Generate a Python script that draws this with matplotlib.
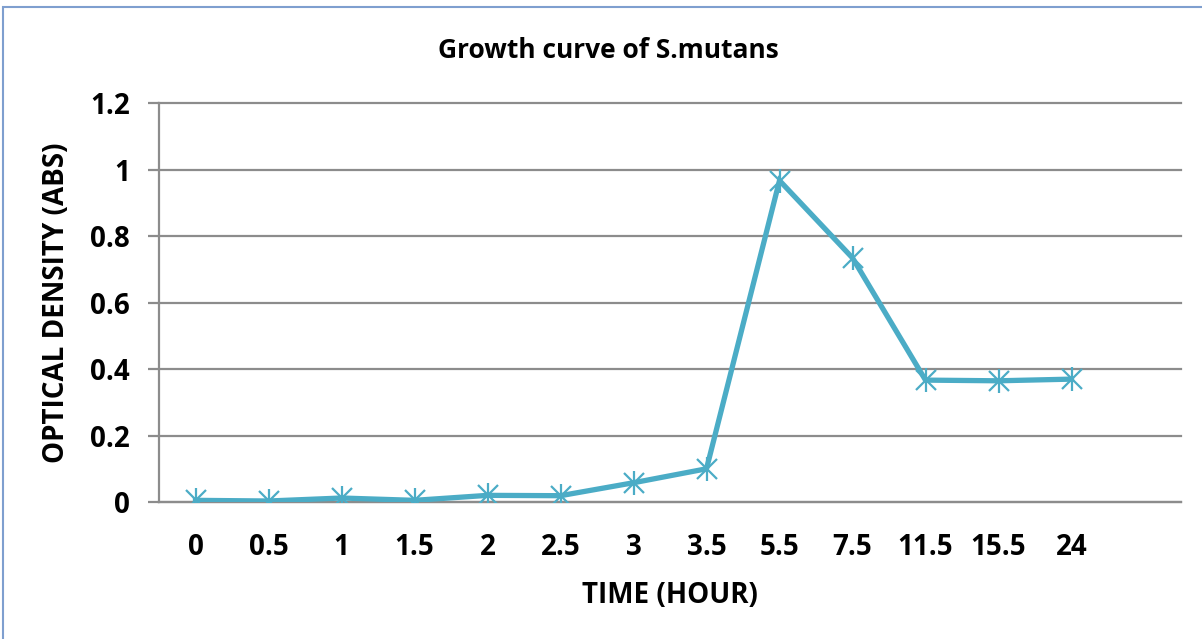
import matplotlib.pyplot as plt
from matplotlib.patches import Rectangle
import numpy as np

# Data
time_labels = ['0', '0.5', '1', '1.5', '2', '2.5', '3', '3.5', '5.5', '7.5', '11.5', '15.5', '24']
od_values = [0.005, 0.003, 0.012, 0.005, 0.020, 0.019, 0.058, 0.100, 0.968, 0.735, 0.367, 0.365, 0.370]
y_ticks = [0, 0.2, 0.4, 0.6, 0.8, 1, 1.2]
y_tick_labels = ['0', '0.2', '0.4', '0.6', '0.8', '1', '1.2']

plt.rcParams['font.family'] = ['Open Sans', 'DejaVu Sans']
plt.rcParams['font.weight'] = 'bold'

fig = plt.figure(figsize=(12.02, 6.39), dpi=100)
ax = fig.add_axes([159 / 1202, 1 - 502 / 639, (1181 - 159) / 1202, (502 - 103.5) / 639])

line_color = '#4BACC6'
grid_color = '#8C8C8C'
x = np.arange(len(time_labels))

ax.plot(x, od_values, color=line_color, lw=3.8, zorder=3, solid_joinstyle='miter')
ax.plot(x, od_values, ls='none', marker='x', ms=14, mew=1.6, color=line_color, zorder=4)
ax.plot(x, od_values, ls='none', marker='|', ms=17, mew=1.6, color=line_color, zorder=4)

ax.set_xlim(-0.5, 13.5)
ax.set_ylim(0, 1.2)
ax.set_yticks(y_ticks)
ax.set_yticklabels(y_tick_labels)
ax.set_xticks(x)
ax.set_xticklabels(time_labels)

ax.yaxis.grid(True, color=grid_color, lw=1.6)
for gl in ax.get_ygridlines():
    gl.set_clip_on(False)
ax.set_axisbelow(True)
for side in ['top', 'right']:
    ax.spines[side].set_visible(False)
for side in ['left', 'bottom']:
    ax.spines[side].set_color(grid_color)
    ax.spines[side].set_linewidth(1.6)

ax.tick_params(axis='y', length=8, width=1.6, color=grid_color, pad=13, labelsize=20)
ax.tick_params(axis='x', length=0, pad=22, labelsize=20)

ax.set_xlabel('TIME (HOUR)', fontsize=20, fontweight='bold', labelpad=14)
ax.set_ylabel('OPTICAL DENSITY (ABS)', fontsize=20, fontweight='bold', labelpad=14)
fig.text(608 / 1202, 1 - 50 / 639, 'Growth curve of S.mutans', ha='center', va='center',
         fontsize=19, fontweight='bold')

# chart frame
fig.patches.append(Rectangle((3 / 1202, -0.05), 1.1, 1 - 7 / 639 + 0.05, transform=fig.transFigure,
                             fill=False, edgecolor='#7F9FCF', lw=1.5))

fig.savefig('out.png', dpi=100)
